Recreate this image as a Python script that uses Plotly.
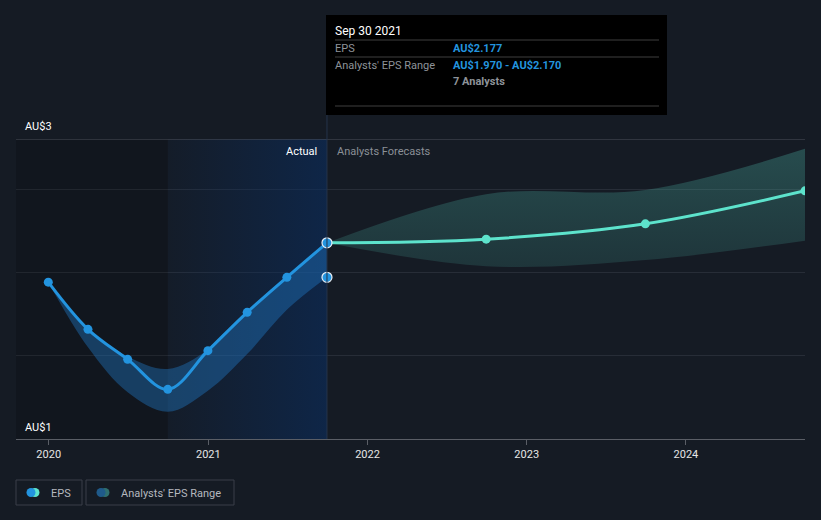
import plotly.graph_objects as go

# ---------------- data ----------------
actual_dates = ["2019-12-31", "2020-03-31", "2020-06-30", "2020-09-30",
                "2020-12-31", "2021-03-31", "2021-06-30", "2021-09-30"]
eps_actual = [1.941, 1.658, 1.478, 1.298, 1.530, 1.760, 1.970, 2.177]
range_low_actual = [1.941, 1.550, 1.280, 1.164, 1.290, 1.510, 1.775, 1.970]
range_high_actual = [1.941, 1.665, 1.495, 1.420, 1.535, 1.765, 1.978, 2.170]

forecast_dates = ["2021-09-30", "2022-09-30", "2023-09-30", "2024-09-30"]
eps_forecast = [2.177, 2.199, 2.291, 2.489]
range_low_forecast = [2.177, 2.037, 2.074, 2.190]
range_high_forecast = [2.177, 2.469, 2.494, 2.741]

year_ticks = ["2020-01-01", "2021-01-01", "2022-01-01", "2023-01-01", "2024-01-01"]
year_labels = ["2020", "2021", "2022", "2023", "2024"]

x_range = ["2019-10-18", "2024-09-30"]
y_range = [1.0, 2.8]
y_grid = [1.5, 2.0, 2.5]

# ---------------- layout helpers ----------------
W, H = 821, 520
ML, MR, MT, MB = 16, 16, 139, 81
PW, PH = W - ML - MR, H - MT - MB


def px(xp):
    return (xp - ML) / PW


def py(yp):
    return (H - MB - yp) / PH


BG = "#151b24"
BLUE = "#2394df"
TEAL = "#5de3cc"
FONT = "Roboto"

fig = go.Figure()

# past-year highlight (gradient band)
fig.add_trace(go.Scatter(
    x=[actual_dates[3], actual_dates[7], actual_dates[7], actual_dates[3], actual_dates[3]],
    y=[y_range[0], y_range[0], y_range[1], y_range[1], y_range[0]],
    fill="toself", mode="lines", line=dict(width=0),
    fillgradient=dict(type="horizontal",
                      colorscale=[[0, "rgba(10,45,95,0.08)"], [1, "rgba(10,45,95,0.6)"]]),
    hoverinfo="skip", showlegend=False))

# darker earlier region
fig.add_trace(go.Scatter(
    x=[x_range[0], actual_dates[3], actual_dates[3], x_range[0], x_range[0]],
    y=[y_range[0], y_range[0], y_range[1], y_range[1], y_range[0]],
    fill="toself", mode="lines", line=dict(width=0),
    fillcolor="rgba(0,0,0,0.15)", hoverinfo="skip", showlegend=False))

# actual analysts range band
fig.add_trace(go.Scatter(x=actual_dates, y=range_low_actual, mode="lines",
                         line=dict(width=0, shape="spline"), hoverinfo="skip",
                         showlegend=False))
fig.add_trace(go.Scatter(x=actual_dates, y=range_high_actual, mode="lines",
                         line=dict(width=0, shape="spline"), fill="tonexty",
                         fillcolor="rgba(35,130,210,0.38)", hoverinfo="skip",
                         showlegend=False))

# forecast band
fig.add_trace(go.Scatter(x=forecast_dates, y=range_low_forecast, mode="lines",
                         line=dict(width=0, shape="spline"), hoverinfo="skip",
                         showlegend=False))
fig.add_trace(go.Scatter(x=forecast_dates, y=range_high_forecast, mode="lines",
                         line=dict(width=0, shape="spline"), fill="tonexty",
                         fillgradient=dict(type="vertical",
                                           colorscale=[[0, "rgba(80,190,175,0.16)"],
                                                       [1, "rgba(80,190,175,0.30)"]]),
                         hoverinfo="skip", showlegend=False))

# EPS lines
fig.add_trace(go.Scatter(x=actual_dates, y=eps_actual, mode="lines+markers",
                         line=dict(color=BLUE, width=3, shape="spline"),
                         marker=dict(size=9, color=BLUE), showlegend=False))
fig.add_trace(go.Scatter(x=forecast_dates, y=eps_forecast, mode="lines+markers",
                         line=dict(color=TEAL, width=3, shape="spline"),
                         marker=dict(size=9, color=TEAL), showlegend=False))

# hover markers
fig.add_trace(go.Scatter(x=[actual_dates[-1], actual_dates[-1]],
                         y=[eps_actual[-1], range_low_actual[-1]], mode="markers",
                         marker=dict(size=10, color=BLUE, line=dict(color="#e8eef5", width=1.2)),
                         showlegend=False, hoverinfo="skip"))

shapes = []
annotations = []

# top line
shapes.append(dict(type="line", xref="paper", yref="y", x0=0, x1=1,
                   y0=y_range[1], y1=y_range[1], line=dict(color="#4c515b", width=1)))

# hover vertical line
shapes.append(dict(type="line", xref="x", yref="paper", x0=actual_dates[-1], x1=actual_dates[-1],
                   y0=0, y1=py(15), line=dict(color="#24344a", width=1)))

# tooltip box
shapes.append(dict(type="rect", xref="paper", yref="paper", x0=px(326), x1=px(667),
                   y0=py(115), y1=py(15), fillcolor="#000000", line=dict(width=0), layer="above"))
for yy in (40, 57, 106):
    shapes.append(dict(type="line", xref="paper", yref="paper", x0=px(335), x1=px(659),
                       y0=py(yy), y1=py(yy), line=dict(color="#3e3e3e", width=1), layer="above"))


def txt(x, y, s, color, size=11, xanchor="left", bold=False):
    annotations.append(dict(xref="paper", yref="paper", x=px(x), y=py(y), text=f"<b>{s}</b>" if bold else s,
                            showarrow=False, xanchor=xanchor, yanchor="middle",
                            font=dict(family=FONT, size=size, color=color)))


txt(333, 31, "Sep 30 2021", "#ffffff", 12)
txt(333, 48, "EPS", "#8e9399", 11)
txt(451, 48, "AU$2.177", BLUE, 11, bold=True)
txt(333, 65, "Analysts' EPS Range", "#8e9399", 11)
txt(451, 65, "AU$1.970 - AU$2.170", BLUE, 11, bold=True)
txt(451, 81, "7 Analysts", "#8e9399", 11, bold=True)

txt(319, 151, "Actual", "#ffffff", 11, xanchor="right")
txt(335, 151, "Analysts Forecasts", "#8b9097", 11)

txt(23, 127, "AU$3", "#ffffff", 11)
txt(23, 427, "AU$1", "#ffffff", 11)

# legend
for x0, x1 in ((16, 82), (86, 234)):
    shapes.append(dict(type="rect", xref="paper", yref="paper", x0=px(x0), x1=px(x1),
                       y0=py(505), y1=py(480), line=dict(color="#3a3f49", width=1),
                       fillcolor="rgba(0,0,0,0)"))
for cx, col in ((35, TEAL), (31, BLUE), (105, "#2f6f6e"), (101, "#1f5a8a")):
    shapes.append(dict(type="circle", xref="paper", yref="paper", x0=px(cx - 4.5), x1=px(cx + 4.5),
                       y0=py(497), y1=py(488), fillcolor=col, line=dict(width=0)))
txt(49, 493, "EPS", "#b4b8bf", 11)
txt(119, 493, "Analysts' EPS Range", "#b4b8bf", 11)

fig.update_layout(
    width=W, height=H, margin=dict(l=ML, r=MR, t=MT, b=MB),
    paper_bgcolor=BG, plot_bgcolor=BG,
    shapes=shapes, annotations=annotations, showlegend=False,
    font=dict(family=FONT, color="#e0e0e0"),
    xaxis=dict(range=x_range, type="date", tickvals=year_ticks, ticktext=year_labels,
               showgrid=False, showline=True, linecolor="#5a5e66", linewidth=1,
               ticks="outside", ticklen=5, tickcolor="#5a5e66",
               tickfont=dict(family=FONT, size=11, color="#e6e6e6"), zeroline=False, fixedrange=True),
    yaxis=dict(range=y_range, tickvals=y_grid, showticklabels=False, showgrid=True,
               gridcolor="#272d37", gridwidth=1, zeroline=False, showline=False, fixedrange=True),
)

fig.write_html("out.html")
